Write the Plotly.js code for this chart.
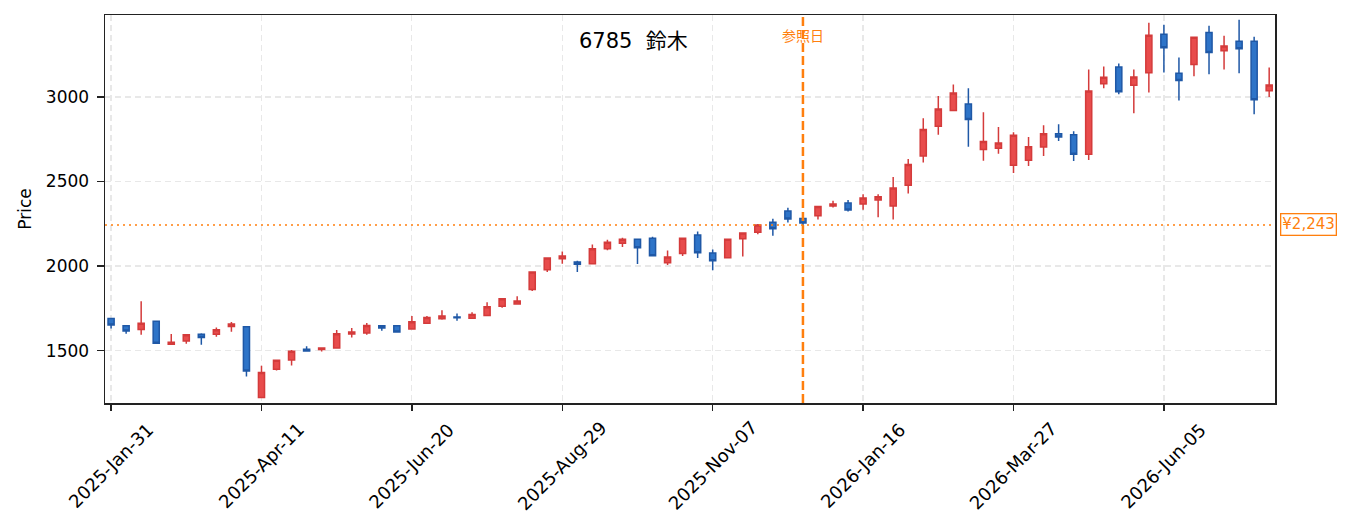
<!DOCTYPE html>
<html>
<head>
<meta charset="utf-8">
<script src="https://cdn.plot.ly/plotly-3.0.1.min.js"></script>
<style>html,body{margin:0;padding:0;background:#fff;}#chart{width:1355px;height:532px;}</style>
</head>
<body>
<div id="chart"></div>
<script>
const dates = [
 '2025-01-31','2025-02-07','2025-02-14','2025-02-21','2025-02-28','2025-03-07','2025-03-14','2025-03-21','2025-03-28','2025-04-04',
 '2025-04-11','2025-04-18','2025-04-25','2025-05-02','2025-05-09','2025-05-16','2025-05-23','2025-05-30','2025-06-06','2025-06-13',
 '2025-06-20','2025-06-27','2025-07-04','2025-07-11','2025-07-18','2025-07-25','2025-08-01','2025-08-08','2025-08-15','2025-08-22',
 '2025-08-29','2025-09-05','2025-09-12','2025-09-19','2025-09-26','2025-10-03','2025-10-10','2025-10-17','2025-10-24','2025-10-31',
 '2025-11-07','2025-11-14','2025-11-21','2025-11-28','2025-12-05','2025-12-12','2025-12-19','2025-12-26','2026-01-02','2026-01-09',
 '2026-01-16','2026-01-23','2026-01-30','2026-02-06','2026-02-13','2026-02-20','2026-02-27','2026-03-06','2026-03-13','2026-03-20',
 '2026-03-27','2026-04-03','2026-04-10','2026-04-17','2026-04-24','2026-05-01','2026-05-08','2026-05-15','2026-05-22','2026-05-29',
 '2026-06-05','2026-06-12','2026-06-19','2026-06-26','2026-07-03','2026-07-10','2026-07-17','2026-07-24'
];
const openP = [
 1690,1647,1625,1673,1537,1557,1596,1596,1643,1641,
 1222,1390,1445,1508,1506,1516,1598,1604,1647,1647,
 1627,1661,1688,1698,1692,1708,1763,1775,1861,1978,
 2043,2024,2014,2102,2135,2159,2165,2020,2074,2184,
 2077,2049,2161,2200,2259,2325,2282,2298,2355,2373,
 2367,2390,2355,2478,2651,2827,2920,2959,2690,2697,
 2596,2626,2704,2782,2776,2661,3078,3178,3069,3143,
 3371,3141,3192,3382,3273,3329,3329,3037
];
const highP = [
 1692,1647,1792,1673,1598,1594,1602,1637,1669,1641,
 1410,1443,1504,1526,1520,1622,1633,1663,1647,1647,
 1704,1704,1739,1720,1727,1786,1806,1822,1965,2047,
 2086,2031,2128,2155,2167,2159,2173,2092,2165,2204,
 2098,2159,2196,2249,2280,2345,2292,2357,2386,2390,
 2425,2425,2527,2633,2874,3006,3074,3051,2910,2822,
 2792,2763,2833,2839,2798,3163,3180,3198,3163,3439,
 3427,3233,3357,3422,3363,3457,3357,3174
];
const lowP = [
 1631,1600,1594,1543,1537,1541,1535,1582,1612,1347,
 1222,1382,1412,1498,1494,1512,1578,1594,1618,1610,
 1627,1661,1682,1677,1690,1708,1753,1775,1853,1965,
 2014,1965,2014,2094,2112,2012,2061,2006,2059,2047,
 1975,2049,2057,2188,2180,2257,2229,2276,2347,2322,
 2333,2288,2276,2429,2612,2776,2920,2706,2623,2665,
 2551,2592,2651,2739,2622,2627,3051,3016,2904,3027,
 3145,2980,3122,3135,3163,3141,2898,3000
];
const closeP = [
 1651,1616,1661,1543,1549,1594,1578,1624,1657,1380,
 1371,1443,1496,1498,1516,1600,1610,1649,1633,1610,
 1671,1696,1704,1694,1714,1759,1806,1794,1965,2047,
 2059,2010,2102,2141,2159,2108,2061,2053,2165,2078,
 2032,2159,2196,2243,2220,2278,2255,2353,2367,2331,
 2402,2410,2461,2600,2808,2929,3023,2867,2737,2728,
 2773,2706,2782,2763,2661,3035,3117,3031,3118,3365,
 3292,3098,3353,3263,3302,3286,2984,3071
];
const tickDates  = ['2025-01-31','2025-04-11','2025-06-20','2025-08-29','2025-11-07','2026-01-16','2026-03-27','2026-06-05'];
const tickLabels = ['2025-Jan-31','2025-Apr-11','2025-Jun-20','2025-Aug-29','2025-Nov-07','2026-Jan-16','2026-Mar-27','2026-Jun-05'];
const yTicks = [1500,2000,2500,3000];
const refDate = '2025-12-19';
const refPrice = 2243;
const titleText = '6785  鈴木';
const refLabel = '参照日';
const priceLabel = '¥2,243';
const yTitle = 'Price';

const FONT = '"DejaVu Sans", "Noto Sans CJK JP", sans-serif';
const JFONT = '"DejaVu Sans", "Noto Sans CJK JP", sans-serif';
const ORANGE = '#ff7f0e';

const trace = {
  type: 'candlestick',
  x: dates, open: openP, high: highP, low: lowP, close: closeP,
  increasing: {line: {color: '#d43b3b', width: 1.5}, fillcolor: '#e84c4c'},
  decreasing: {line: {color: '#1f58a6', width: 1.5}, fillcolor: '#2e74c8'},
  whiskerwidth: 0,
  hoverinfo: 'x+y'
};

const xLabelAnns = tickDates.map((d, i) => ({
  text: tickLabels[i], xref: 'x', yref: 'paper', x: d, y: -0.162,
  xanchor: 'center', yanchor: 'middle', textangle: -45, showarrow: false,
  font: {family: FONT, size: 18, color: '#000'}
}));

const layout = {
  width: 1355, height: 532,
  margin: {l: 105, r: 80, t: 15, b: 129},
  paper_bgcolor: '#fff', plot_bgcolor: '#fff',
  font: {family: FONT, size: 16, color: '#000'},
  showlegend: false,
  boxgap: 0.42,
  xaxis: {
    type: 'date',
    range: ['2025-01-28 04:00', '2026-07-26 17:00'],
    rangeslider: {visible: false},
    tickvals: tickDates,
    showticklabels: false,
    ticks: 'outside', ticklen: 6, tickwidth: 1.5, tickcolor: '#222',
    showline: true, linecolor: '#222', linewidth: 1.5, mirror: true,
    showgrid: true, gridcolor: '#e8e8e8', gridwidth: 1.2, griddash: '6px,4px',
    zeroline: false
  },
  yaxis: {
    range: [1190, 3485],
    tickvals: yTicks,
    tickfont: {family: FONT, size: 17, color: '#000'},
    ticks: 'outside', ticklen: 7, tickwidth: 1.5, tickcolor: '#222',
    ticklabelstandoff: 4,
    showline: true, linecolor: '#222', linewidth: 1.5, mirror: true,
    showgrid: true, gridcolor: '#e8e8e8', gridwidth: 1.2, griddash: '6px,4px',
    zeroline: false,
    title: {text: yTitle, font: {family: FONT, size: 17, color: '#000'}, standoff: 10}
  },
  shapes: [
    {type: 'line', xref: 'paper', x0: 0, x1: 1, yref: 'y', y0: refPrice, y1: refPrice,
     line: {color: ORANGE, width: 1.6, dash: '2px,4px'}},
    {type: 'line', xref: 'x', x0: refDate, x1: refDate, yref: 'paper', y0: 0, y1: 1,
     line: {color: ORANGE, width: 2.5, dash: '9px,4px'}}
  ],
  annotations: [
    {text: titleText, xref: 'paper', yref: 'paper', x: 0.452, y: 0.934,
     xanchor: 'center', yanchor: 'middle', showarrow: false,
     font: {family: JFONT, size: 21, color: '#000'}},
    {text: refLabel, xref: 'x', yref: 'paper', x: refDate, y: 0.948,
     xanchor: 'center', yanchor: 'middle', showarrow: false,
     font: {family: '"Noto Sans CJK JP", sans-serif', size: 14, color: ORANGE}},
    {text: priceLabel, xref: 'paper', yref: 'y', x: 1.004, y: refPrice,
     xanchor: 'left', yanchor: 'middle', showarrow: false,
     bgcolor: '#fff', bordercolor: ORANGE, borderwidth: 1.3, borderpad: 1,
     font: {family: FONT, size: 15, color: ORANGE}}
  ].concat(xLabelAnns)
};

Plotly.newPlot('chart', [trace], layout, {displayModeBar: false, staticPlot: true});
</script>
</body>
</html>
